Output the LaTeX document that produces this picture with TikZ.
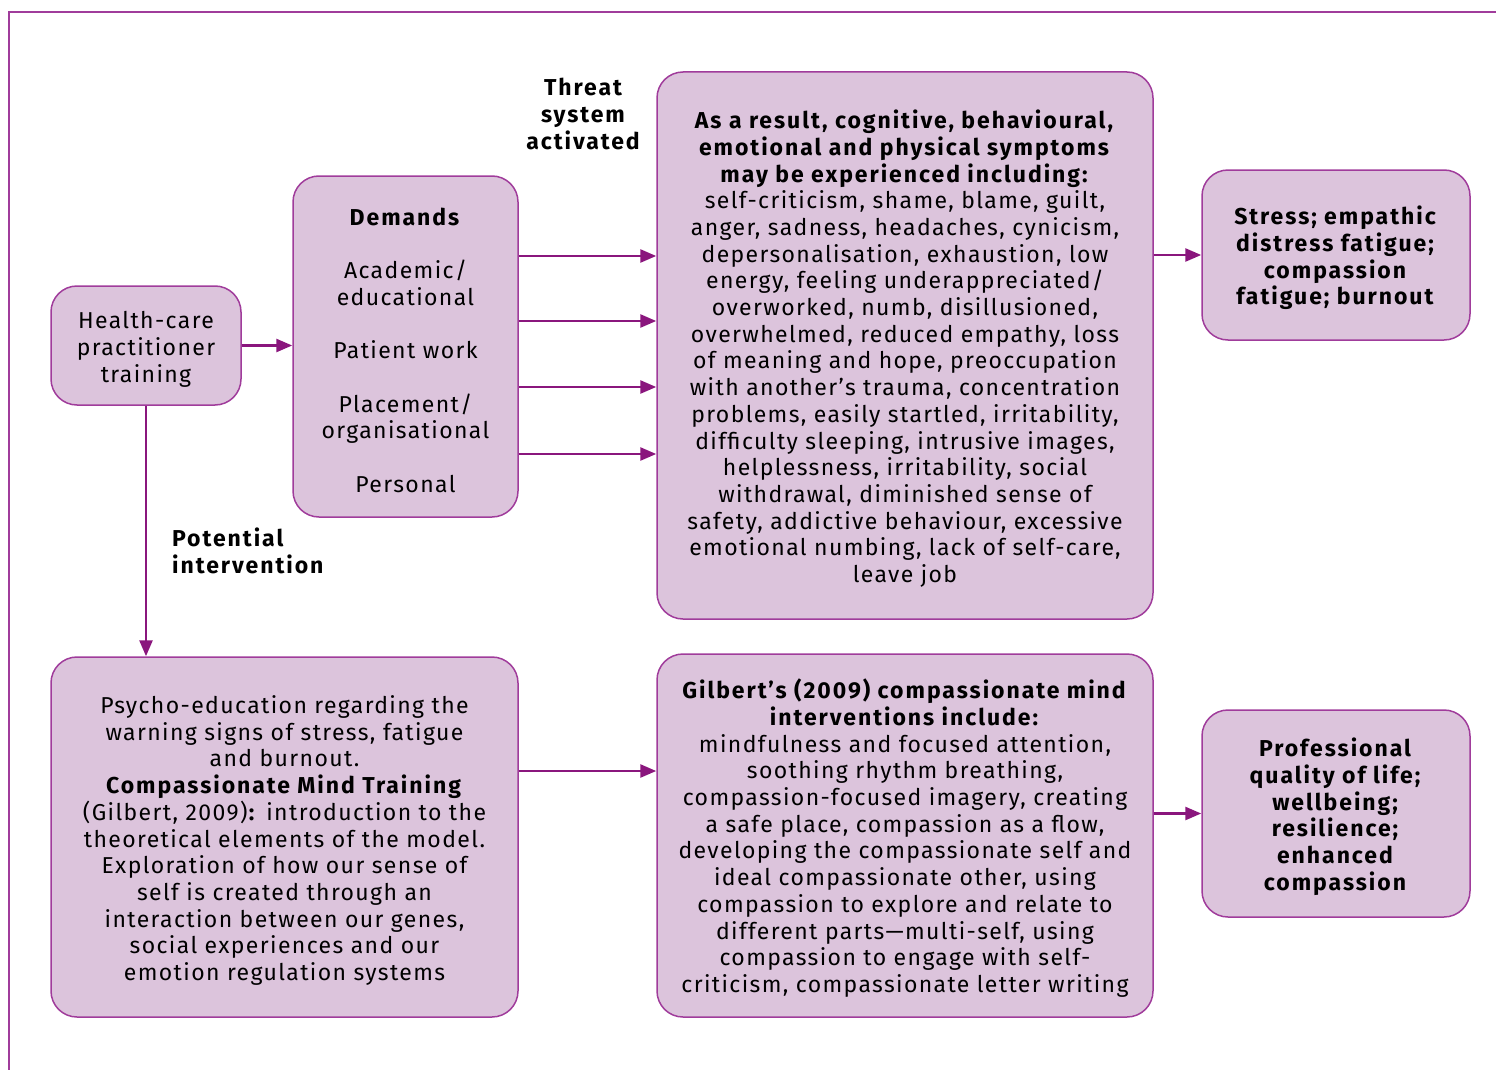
\documentclass[tikz,border=0pt]{standalone}
\usepackage{fontspec}
\setmainfont[LetterSpace=6, BoldFeatures={LetterSpace=8.5}]{Fira Sans}
\usetikzlibrary{arrows.meta}

\definecolor{boxfill}{RGB}{220,196,220}
\definecolor{boxline}{RGB}{160,60,155}
\definecolor{arrowcol}{RGB}{138,22,125}
\newcommand{\topgap}{\rule{0pt}{25pt}}

\begin{document}
\begin{tikzpicture}[x=1pt, y=-1pt,
    every node/.style = {font=\fontsize{23}{26.7}\selectfont, align=center, inner sep=0pt},
    box/.style = {draw=boxline, fill=boxfill, line width=1.5pt, rounded corners=26pt},
    arr/.style = {draw=arrowcol, line width=2.6pt, -{Triangle[length=16pt,width=13pt]}}]
    \useasboundingbox (0,0) rectangle (1496,1070);
    \draw[boxline, line width=1.5pt] (1496,12) -- (9,12) -- (9,1070);

    \node[box, minimum width=190pt, minimum height=119pt] (hc) at (146,345.5)
        {\topgap Health-care\\ practitioner\\ training};
    \node[box, minimum width=225pt, minimum height=341pt] (dem) at (405.5,346.5)
        {\topgap\textbf{Demands}\\[26.7pt] Academic/\\ educational\\[26.7pt] Patient work\\[26.7pt]
         Placement/\\ organisational\\[26.7pt] Personal};
    \node[box, minimum width=496pt, minimum height=547pt] (sym) at (905,345.5)
        {\topgap\textbf{As a result, cognitive, behavioural,}\\ \textbf{emotional and physical symptoms}\\
         \textbf{may be experienced including:}\\ self-criticism, shame, blame, guilt,\\
         anger, sadness, headaches, cynicism,\\ depersonalisation, exhaustion, low\\
         energy, feeling underappreciated/\\ overworked, numb, disillusioned,\\
         overwhelmed, reduced empathy, loss\\ of meaning and hope, preoccupation\\
         with another’s trauma, concentration\\ problems, easily startled, irritability,\\
         difficulty sleeping, intrusive images,\\ helplessness, irritability, social\\
         withdrawal, diminished sense of\\ safety, addictive behaviour, excessive\\
         emotional numbing, lack of self-care,\\ leave job};
    \node[box, minimum width=268pt, minimum height=170pt] (str) at (1336,255)
        {\topgap\textbf{Stress; empathic}\\ \textbf{distress fatigue;}\\ \textbf{compassion}\\ \textbf{fatigue; burnout}};
    \node[box, minimum width=467pt, minimum height=360pt] (psy) at (284.5,837)
        {\topgap Psycho-education regarding the\\ warning signs of stress, fatigue\\ and burnout.\\
         \textbf{Compassionate Mind Training}\\ (Gilbert, 2009)\textbf{:} introduction to the\\
         theoretical elements of the model.\\ Exploration of how our sense of\\
         self is created through an\\ interaction between our genes,\\
         social experiences and our\\ emotion regulation systems};
    \node[box, minimum width=496pt, minimum height=363pt] (gil) at (905,835.5)
        {\topgap\textbf{Gilbert’s (2009) compassionate mind}\\ \textbf{interventions include:}\\
         mindfulness and focused attention,\\ soothing rhythm breathing,\\
         compassion-focused imagery, creating\\ a safe place, compassion as a flow,\\
         developing the compassionate self and\\ ideal compassionate other, using\\
         compassion to explore and relate to\\ different parts—multi-self, using\\
         compassion to engage with self-\\ criticism, compassionate letter writing};
    \node[box, minimum width=268pt, minimum height=207pt] (pro) at (1336,813.5)
        {\topgap\textbf{Professional}\\ \textbf{quality of life;}\\ \textbf{wellbeing;}\\
         \textbf{resilience;}\\ \textbf{enhanced}\\ \textbf{compassion}};

    \node[font=\bfseries\fontsize{23}{26.7}\selectfont] (thr) at (583,114) {Threat\\ system\\ activated};
    \node[font=\bfseries\fontsize{23}{26.7}\selectfont, anchor=west, align=left] (pot) at (172,551)
        {Potential\\ intervention};

    \draw[arr] (hc.east) -- (hc.east -| dem.west);
    \foreach \yy in {256,321,387,454}
        \draw[arr] (dem.east |- 0,\yy) -- (sym.west |- 0,\yy);
    \draw[arr] (sym.east |- str.west) -- (str.west);
    \draw[arr] (hc.south) -- (hc.south |- psy.north);
    \draw[arr] (psy.east |- 0,771) -- (gil.west |- 0,771);
    \draw[arr] (gil.east |- pro.west) -- (pro.west);
\end{tikzpicture}
\end{document}
